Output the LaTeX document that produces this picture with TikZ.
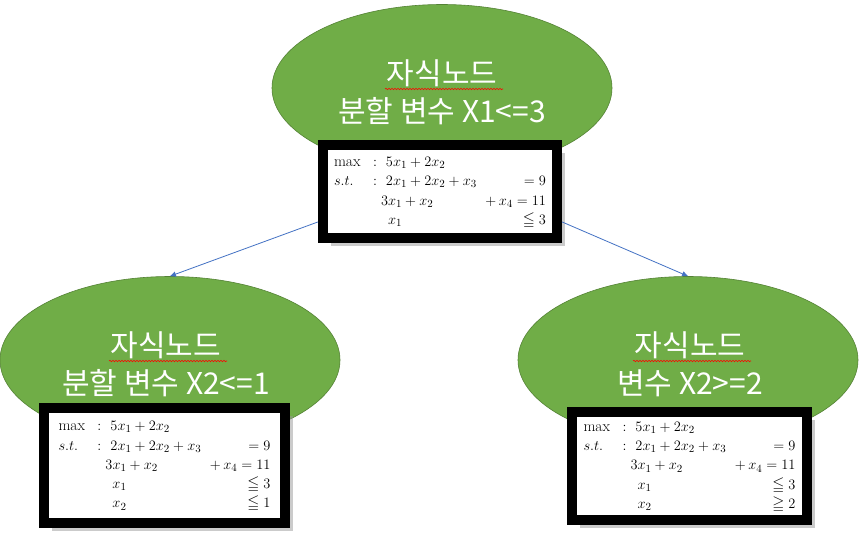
\documentclass[tikz,border=0pt]{standalone}
\usepackage{fontspec}
\usepackage{amsmath}
\usepackage{amssymb}
\usepackage{array}
\usetikzlibrary{shapes.geometric,arrows.meta,shadows,calc,
                decorations.pathmorphing}
\newfontfamily\kofont{Noto Sans CJK KR}
\definecolor{LeafGreen}{RGB}{112,173,71}
\definecolor{DarkGreen}{RGB}{84,130,53}
\definecolor{LinkBlue}{RGB}{68,114,196}
\newcolumntype{R}[1]{>{\raggedleft\arraybackslash}p{#1}}
\newcolumntype{Q}{@{}p{39pt}@{}p{13pt}@{}p{97pt}@{}R{63pt}@{}}
\tikzset{
  gnode/.style={ellipse,draw=DarkGreen,fill=LeafGreen,line width=0.6pt,
                minimum width=340pt,minimum height=167pt,inner sep=0pt},
  gtext/.style={text=white,align=center,inner sep=0pt,
                font=\kofont\fontsize{30}{38}\selectfont},
  lpbox/.style={rectangle,draw=black,fill=white,line width=10pt,inner sep=0pt,
                drop shadow={shadow xshift=8pt,shadow yshift=-8pt,fill=black!40},
                font=\fontsize{15.5}{19.3}\selectfont},
  arr/.style={-{Triangle[length=6pt,width=5pt]},LinkBlue,line width=0.8pt},
  wavy/.style={red,line width=0.6pt,decorate,
               decoration={snake,amplitude=0.7pt,segment length=3pt}},
}
% common rows of the LP
\newcommand{\lphead}{%
  $\max$ & $:$ & $5x_1+2x_2$ & \\
  $s.t.$ & $:$ & $2x_1+2x_2+x_3$ & $=9$\\
  & & \hspace*{-5pt}$3x_1+x_2$ & ${}+x_4=11$\\
  & & \hspace*{2pt}$x_1$ & $\leqq 3$}

\begin{document}
\begin{tikzpicture}[x=1pt,y=-1pt]
  \useasboundingbox (0,0) rectangle (863,538);
  \fill[white] (0,0) rectangle (863,538);
  % tree nodes
  \node[gnode] (topnode) at (442,88) {};
  \node[gnode] (leftnode) at (170,360) {};
  \node[gnode] (rightnode) at (688,360) {};
  \node[gtext] (toptext) at ($(topnode)+(0,4)$) {자식노드\\분할 변수 X1<=3};
  \node[gtext] (lefttext) at ($(leftnode)+(-4,4)$) {자식노드\\분할 변수 X2<=1};
  \node[gtext] (righttext) at ($(rightnode)+(2,4)$) {자식노드\\변수 X2>=2};
  \foreach \t in {toptext,lefttext,righttext}
    \draw[wavy] ($(\t.center)+(-57,-3)$) -- ($(\t.center)+(61,-3)$);
  % LP boxes
  \node[lpbox,minimum width=234pt,minimum height=93pt] (topbox) at (440,191.5)
    {\begin{tabular}{Q}\lphead\end{tabular}};
  \node[lpbox,minimum width=241pt,minimum height=115pt] (leftbox) at (164.5,465.5)
    {\begin{tabular}{Q}\lphead\\ & & \hspace*{2pt}$x_2$ & $\leqq 1$\end{tabular}};
  \node[lpbox,minimum width=235pt,minimum height=108pt] (rightbox) at (689.5,466)
    {\begin{tabular}{Q}\lphead\\ & & \hspace*{2pt}$x_2$ & $\geqq 2$\end{tabular}};
  % branches
  \draw[arr] (topbox.194) -- (leftnode.north);
  \draw[arr] (topbox.-14) -- (rightnode.north);
\end{tikzpicture}
\end{document}
